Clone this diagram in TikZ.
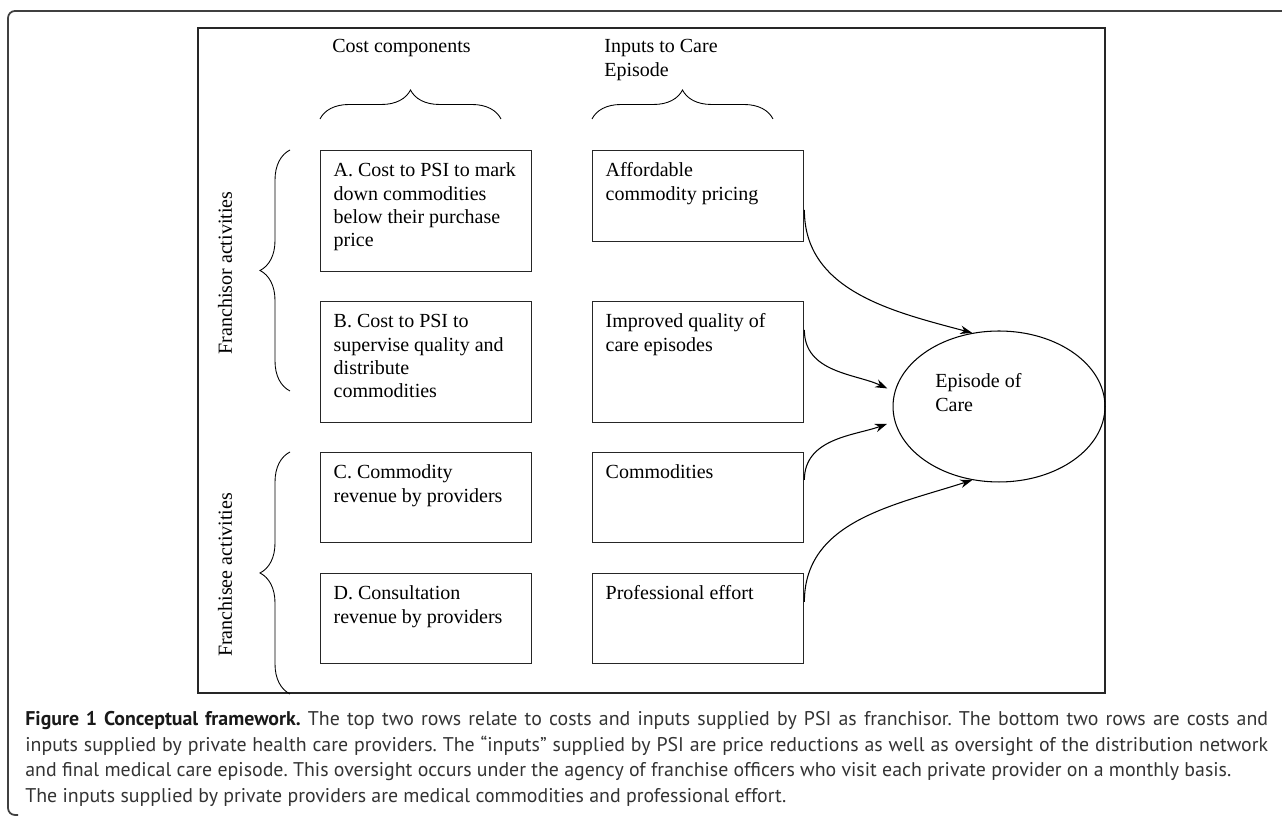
\documentclass[tikz,border=0pt]{standalone}
\usepackage{fontspec}
\setmainfont{Liberation Serif}
\newfontfamily\capfont{PT Sans}
\usetikzlibrary{shapes,arrows.meta,decorations.pathreplacing}

\newcommand{\cellbody}[2]{\parbox[t][#1][t]{3.70cm}{\raggedright\strut #2}}
\newcommand{\fullline}[1]{\makebox[24.86cm][s]{#1}}

\tikzset{
  cell/.style={draw=black!85, line width=0.8pt, anchor=north west, inner xsep=0.26cm, inner ysep=0.2cm},
  heading/.style={anchor=west, inner sep=0pt, align=left},
  curly/.style={decorate, decoration={brace, amplitude=0.58cm}, line width=0.5pt},
  feed/.style={-{Stealth[length=0.24cm, width=0.17cm]}, line width=0.6pt},
}

\begin{document}
\frenchspacing
\begin{tikzpicture}[x=0.02cm, y=0.02cm, font=\fontsize{11.38pt}{13.26pt}\selectfont]
\useasboundingbox (0,0) rectangle (1282,817);

% Cadre extérieur
\draw[black!75, line width=1pt, rounded corners=0.14cm] (1282,806) -- (8,806) -- (8,2) -- (18,2);

% Cadre du schéma
\draw[black!85, line width=0.8pt] (198,789) rectangle (1105,124);

% En-têtes des colonnes
\node[heading] (hcost) at (332,769) {Cost components};
\node[heading] (hinput) at (604,757) {Inputs to Care\\Episode};
\draw[curly] (320,698) -- (501,698);
\draw[curly] (592,698) -- (773,698);

% Activités (lignes)
\node[rotate=90, inner sep=0pt] (franchisor) at (225,544) {Franchisor activities};
\node[rotate=90, inner sep=0pt] (franchisee) at (225,242) {Franchisee activities};
\draw[curly, decoration={amplitude=0.6cm}] (290,426) -- (290,667);
\draw[curly, decoration={amplitude=0.6cm}] (290,123) -- (290,365);

% Composantes de coût
\node[cell] (costA) at (320,667) {\cellbody{2.02cm}{A. Cost to PSI to mark\\down commodities\\below their purchase\\price}};
\node[cell] (costB) at (320,516) {\cellbody{2.02cm}{B. Cost to PSI to\\supervise quality and\\distribute\\commodities}};
\node[cell] (costC) at (320,365) {\cellbody{1.40cm}{C. Commodity\\revenue by providers}};
\node[cell] (costD) at (320,244) {\cellbody{1.40cm}{D. Consultation\\revenue by providers}};

% Intrants
\node[cell] (aff) at (592,667) {\cellbody{1.42cm}{Affordable\\commodity pricing}};
\node[cell] (imp) at (592,516) {\cellbody{2.02cm}{Improved quality of\\care episodes}};
\node[cell] (com) at (592,365) {\cellbody{1.40cm}{Commodities}};
\node[cell] (prof) at (592,244) {\cellbody{1.40cm}{Professional effort}};

% Episode de soins
\node[draw, ellipse, line width=0.6pt, inner sep=0pt, minimum width=4.24cm, minimum height=3.02cm] (care) at (999,410.5) {};
\node[heading] (caretext) at (935,424.5) {Episode of\\Care};

% Flèches
\draw[feed] ([yshift=-1.2cm]aff.north east) to[out=-90, in=165] (care.110);
\draw[feed, shorten >=0.16cm] ([yshift=-0.58cm]imp.north east) to[out=-90, in=155] (care.172);
\draw[feed, shorten >=0.16cm] ([yshift=-0.56cm]com.north east) to[out=90, in=200] (care.188);
\draw[feed] ([yshift=-0.58cm]prof.north east) to[out=90, in=198] (care.250);

% Légende
\node[anchor=north west, inner sep=0pt, align=left, text=black!80,
  font=\capfont\fontsize{11.3pt}{14.62pt}\selectfont] (legend) at (25,106)
  {\fullline{\textbf{\color{black!90}Figure 1 Conceptual framework.} The top two rows relate to costs and inputs supplied by PSI as franchisor. The bottom two rows are costs and}\\
  \fullline{inputs supplied by private health care providers. The “inputs” supplied by PSI are price reductions as well as oversight of the distribution network}\\
  and final medical care episode. This oversight occurs under the agency of franchise officers who visit each private provider on a monthly basis.\\
  The inputs supplied by private providers are medical commodities and professional effort.};

\end{tikzpicture}
\end{document}
